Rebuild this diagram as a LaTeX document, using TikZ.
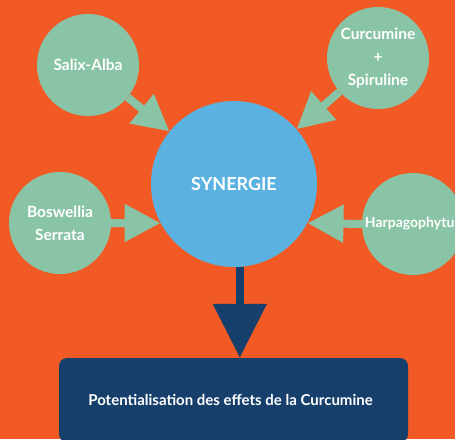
\documentclass[tikz,border=0pt]{standalone}
\usepackage{fontspec}
\setmainfont{Lato}
\usetikzlibrary{arrows.meta}
\definecolor{bgorange}{RGB}{241,90,36}
\definecolor{herbgreen}{RGB}{137,196,166}
\definecolor{synblue}{RGB}{91,178,225}
\definecolor{darkblue}{RGB}{22,64,107}
\tikzset{
  herb/.style={circle, fill=herbgreen, minimum size=102pt, inner sep=0pt, text=white,
    font=\bfseries\fontsize{15.5}{23}\selectfont, align=center},
  synnode/.style={circle, fill=synblue, minimum size=166pt, inner sep=0pt, text=white,
    font=\bfseries\fontsize{18}{21}\selectfont},
  resbox/.style={rectangle, rounded corners=8pt, fill=darkblue, minimum width=349pt,
    minimum height=84pt, inner sep=0pt, text=white, font=\bfseries\fontsize{15}{18}\selectfont},
  greenarrow/.style={draw=herbgreen, line width=8pt, -{Triangle[width=36pt,length=36pt]}},
  darkarrow/.style={draw=darkblue, line width=8.5pt, -{Triangle[width=52pt,length=54pt]}}
}
\begin{document}
\begin{tikzpicture}[x=1pt,y=-1pt]
\clip (0,0) rectangle (455,439);
\fill[bgorange] (0,0) rectangle (455,439);
\node[synnode] (syn) at (234,184) {\raisebox{-4pt}{SYNERGIE}};
\node[herb] (sal) at (88,65) {Salix-Alba};
\node[herb] (cur) at (378,58) {Curcumine\\+\\Spiruline};
\node[herb] (bos) at (60,223) {Boswellia\\Serrata};
\node[herb, font=\bfseries\fontsize{14}{20}\selectfont] (har) at (413,224)
  {\makebox[0pt][c]{\hspace*{5pt}Harpagophytum}};
\node[resbox] (res) at (233.5,400) {\hspace*{-6pt}Potentialisation des effets de la Curcumine};
\draw[greenarrow] (sal) -- (syn);
\draw[greenarrow] (cur) -- (syn);
\draw[greenarrow] (bos.east) -- (syn.208.8);
\draw[greenarrow] (har.west) -- (syn.-28.8);
\draw[darkarrow] (syn.-86) -- (syn.-86 |- res.north);
\end{tikzpicture}
\end{document}
